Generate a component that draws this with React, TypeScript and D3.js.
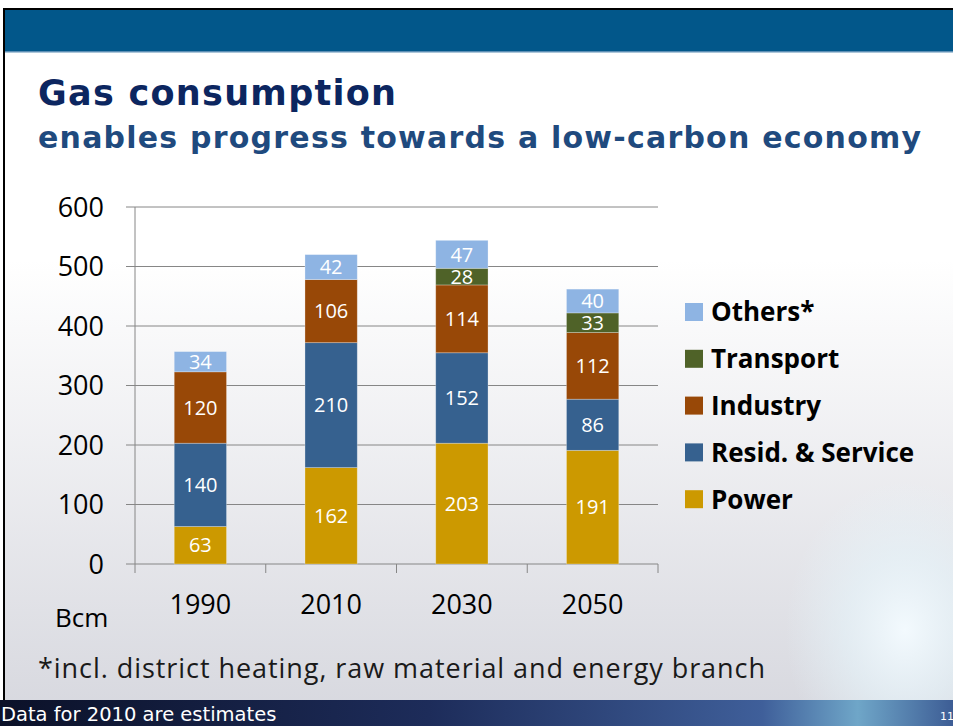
import * as d3 from "d3";

const years = ["1990", "2010", "2030", "2050"];
const seriesNames = ["Power", "Resid. & Service", "Industry", "Transport", "Others*"];
const power = [63, 162, 203, 191];
const resid = [140, 210, 152, 86];
const industry = [120, 106, 114, 112];
const transport = [0, 0, 28, 33];
const others = [34, 42, 47, 40];
const yTicks = [0, 100, 200, 300, 400, 500, 600];
const colors = ["#CC9900", "#36618F", "#984807", "#4F6228", "#8EB4E3"];

const W = 953;
const H = 726;

export default function App() {
  const x = d3.scaleBand().domain(years).range([135, 658]);
  const y = d3.scaleLinear().domain([0, 600]).range([564, 207]);
  const barW = x.bandwidth() * 0.4;

  const rows = years.map((yr, i) => ({
    year: yr,
    "Power": power[i],
    "Resid. & Service": resid[i],
    "Industry": industry[i],
    "Transport": transport[i],
    "Others*": others[i],
  }));
  const stack = d3.stack<any>().keys(seriesNames)(rows);

  const num = "'Open Sans', sans-serif";
  const verd = "'DejaVu Sans', Verdana, sans-serif";

  return (
    <svg width={W} height={H} style={{ position: "absolute", left: 0, top: 0 }}>
      <defs>
        <linearGradient id="bg" x1="0" y1="0" x2="0" y2="1">
          <stop offset="0" stopColor="#ffffff" />
          <stop offset="0.35" stopColor="#ffffff" />
          <stop offset="1" stopColor="#d6d7de" />
        </linearGradient>
        <radialGradient id="glow" cx="0.5" cy="0.5" r="0.5">
          <stop offset="0" stopColor="#f4fbff" stopOpacity="0.95" />
          <stop offset="0.5" stopColor="#e6f4fa" stopOpacity="0.6" />
          <stop offset="1" stopColor="#e6f4fa" stopOpacity="0" />
        </radialGradient>
        <linearGradient id="foot" x1="0" y1="0" x2="1" y2="0">
          <stop offset="0" stopColor="#0b1128" />
          <stop offset="0.45" stopColor="#1d2c5a" />
          <stop offset="0.8" stopColor="#3f5f9a" />
          <stop offset="0.9" stopColor="#6fa6c8" />
          <stop offset="1" stopColor="#3d5d95" />
        </linearGradient>
      </defs>

      <rect x={0} y={0} width={W} height={H} fill="#ffffff" />
      <rect x={4} y={9} width={W - 4} height={H - 9} fill="url(#bg)" />
      <ellipse cx={905} cy={630} rx={120} ry={150} fill="url(#glow)" />
      {/* header band */}
      <rect x={4} y={8} width={W - 4} height={2} fill="#000" />
      <rect x={4} y={10} width={W - 4} height={42} fill="#02578A" />
      <rect x={4} y={51} width={W - 4} height={1.5} fill="#5d8fb5" />
      <rect x={3} y={8} width={2} height={692} fill="#000" />

      <text x={38} y={105} fontFamily={verd} fontWeight="bold" fontSize={35} fill="#0C2660" textLength={358}>
        Gas consumption
      </text>
      <text x={38} y={148} fontFamily={verd} fontWeight="bold" fontSize={30} fill="#1F4A7E" textLength={883}>
        enables progress towards a low-carbon economy
      </text>

      {/* gridlines + y ticks */}
      {yTicks.map((t) => (
        <g key={t}>
          <line x1={126} x2={t === 0 ? 135 : 658} y1={y(t)} y2={y(t)} stroke="#868686" strokeWidth={1} />
          <text x={104} y={y(t)} dy="0.36em" textAnchor="end" fontFamily={num} fontSize={27} fill="#000">
            {t}
          </text>
        </g>
      ))}
      <line x1={135} x2={135} y1={207} y2={573} stroke="#868686" strokeWidth={1} />
      <line x1={135} x2={658} y1={564} y2={564} stroke="#868686" strokeWidth={1} />
      {[...years.map((d) => x(d)!), 658].slice(1).map((v, i) => (
        <line key={i} x1={v} x2={v} y1={564} y2={573} stroke="#868686" strokeWidth={1} />
      ))}
      {years.map((yr) => (
        <text key={yr} x={x(yr)! + x.bandwidth() / 2} y={614} textAnchor="middle" fontFamily={num} fontSize={27} fill="#000">
          {yr}
        </text>
      ))}
      <text x={55} y={627} fontFamily={num} fontSize={26} fill="#000">Bcm</text>

      {/* bars */}
      {stack.map((s, si) => (
        <g key={s.key}>
          {s.map((d, i) => {
            const v = d[1] - d[0];
            if (v <= 0) return null;
            const cx = x(years[i])! + x.bandwidth() / 2;
            return (
              <g key={i}>
                <rect
                  x={cx - barW / 2}
                  y={y(d[1])}
                  width={barW}
                  height={y(d[0]) - y(d[1])}
                  fill={colors[si]}
                  stroke="#ffffff"
                  strokeOpacity={0.35}
                  strokeWidth={0.8}
                />
                <text x={cx} y={(y(d[0]) + y(d[1])) / 2} dy="0.36em" textAnchor="middle" fontFamily={num} fontSize={20} fill="#ffffff">
                  {v}
                </text>
              </g>
            );
          })}
        </g>
      ))}

      {/* legend */}
      {seriesNames
        .slice()
        .reverse()
        .map((name, i) => {
          const ly = 312 + i * 46.8;
          return (
            <g key={name}>
              <rect x={685} y={ly - 9} width={18} height={18} fill={colors[seriesNames.length - 1 - i]} />
              <text x={711} y={ly} dy="0.36em" fontFamily={num} fontWeight="bold" fontSize={26} fill="#000">
                {name}
              </text>
            </g>
          );
        })}

      <text x={38} y={678} fontFamily={num} fontSize={27} fill="#1a1a1a" textLength={727}>
        *incl. district heating, raw material and energy branch
      </text>

      {/* footer band */}
      <rect x={0} y={700} width={W} height={26} fill="url(#foot)" />
      <text x={1} y={721} fontFamily={verd} fontSize={19.5} fill="#ffffff">
        Data for 2010 are estimates
      </text>
      <text x={940} y={720} fontFamily={verd} fontSize={11} fill="#ffffff">11</text>
    </svg>
  );
}
